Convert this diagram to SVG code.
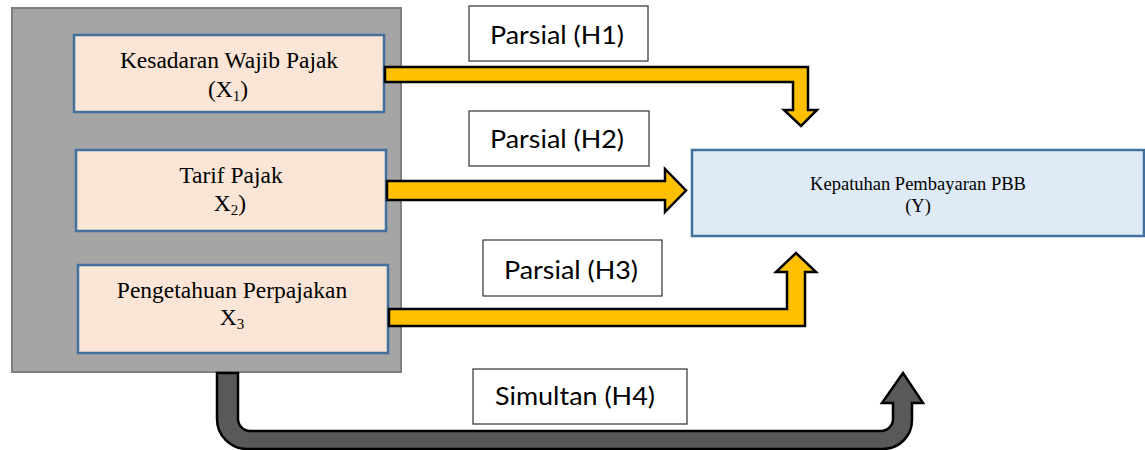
<svg xmlns="http://www.w3.org/2000/svg" width="1145" height="450" viewBox="0 0 1145 450">
  <style>
    .var { fill: #fbe5d6; stroke: #41719c; stroke-width: 2.5; }
    .dep { fill: #deebf7; stroke: #41719c; stroke-width: 2.5; }
    .label { fill: #ffffff; stroke: #404040; stroke-width: 1.3; }
    .serif { font-family: "Liberation Serif", "Times New Roman", serif; fill: #000; text-anchor: middle; }
    .sans { font-family: Lato, "Open Sans", "Liberation Sans", sans-serif; font-size: 25px; fill: #000; text-anchor: middle; }
    .sub { font-size: 15px; }
    .partial { fill: #ffc000; stroke: #000; stroke-width: 2.5; stroke-linejoin: miter; }
    .simul { fill: #595959; stroke: #000; stroke-width: 2.5; stroke-linejoin: miter; }
  </style>

  <!-- Independent variables container -->
  <g id="independent-group">
    <rect x="12" y="8" width="389" height="364" fill="#a5a5a5" stroke="#7f7f7f" stroke-width="2"/>
  </g>

  <g id="x1">
    <rect class="var" x="74" y="35" width="310" height="77"/>
    <text class="serif" font-size="23.5" x="229" y="68">Kesadaran Wajib Pajak</text>
    <text class="serif" font-size="23.5" x="228" y="97">(X<tspan class="sub" dy="4">1</tspan><tspan dy="-4">)</tspan></text>
  </g>

  <g id="x2">
    <rect class="var" x="76" y="150" width="310" height="81"/>
    <text class="serif" font-size="23.5" x="231" y="183">Tarif Pajak</text>
    <text class="serif" font-size="23.5" x="230" y="211">X<tspan class="sub" dy="4">2</tspan><tspan dy="-4">)</tspan></text>
  </g>

  <g id="x3">
    <rect class="var" x="78" y="265" width="310" height="88"/>
    <text class="serif" font-size="23.5" x="232" y="298">Pengetahuan Perpajakan</text>
    <text class="serif" font-size="23.5" x="232" y="325">X<tspan class="sub" dy="4">3</tspan></text>
  </g>

  <g id="y">
    <rect class="dep" x="692" y="150" width="452" height="86"/>
    <text class="serif" font-size="18.5" x="918" y="190">Kepatuhan Pembayaran PBB</text>
    <text class="serif" font-size="18.5" x="918" y="212">(Y)</text>
  </g>

  <!-- Hypothesis arrows -->
  <g id="connectors">
    <polygon id="arrow-h1" class="partial" points="385,67 808,67 808,110 817,110 801,126 784,110 793,110 793,82 385,82"/>
    <polygon id="arrow-h2" class="partial" points="387,181 665,181 665,169 686,190.5 665,212 665,200 387,200"/>
    <polygon id="arrow-h3" class="partial" points="389,309 787,309 787,272 776,272 796,253 816,272 805,272 805,326 389,326"/>
    <path id="arrow-h4" class="simul" d="M217,373 L238,373 L238,419 A12,12 0 0 0 250,431 L881,431 A12,12 0 0 0 893,419 L893,403 L882,403 L903,373 L923,403 L912,403 L912,420 A29,29 0 0 1 883,449 L247,449 A30,30 0 0 1 217,419 Z"/>
  </g>

  <g id="label-h1">
    <rect class="label" x="469" y="6" width="179" height="55"/>
    <text class="sans" x="557" y="44" textLength="134" lengthAdjust="spacingAndGlyphs">Parsial (H1)</text>
  </g>
  <g id="label-h2">
    <rect class="label" x="469" y="111" width="180" height="55"/>
    <text class="sans" x="557" y="148" textLength="134" lengthAdjust="spacingAndGlyphs">Parsial (H2)</text>
  </g>
  <g id="label-h3">
    <rect class="label" x="483" y="240" width="179" height="56"/>
    <text class="sans" x="571" y="279" textLength="134" lengthAdjust="spacingAndGlyphs">Parsial (H3)</text>
  </g>
  <g id="label-h4">
    <rect class="label" x="473" y="369" width="214" height="55"/>
    <text class="sans" x="575" y="405" textLength="160" lengthAdjust="spacingAndGlyphs">Simultan (H4)</text>
  </g>
</svg>
